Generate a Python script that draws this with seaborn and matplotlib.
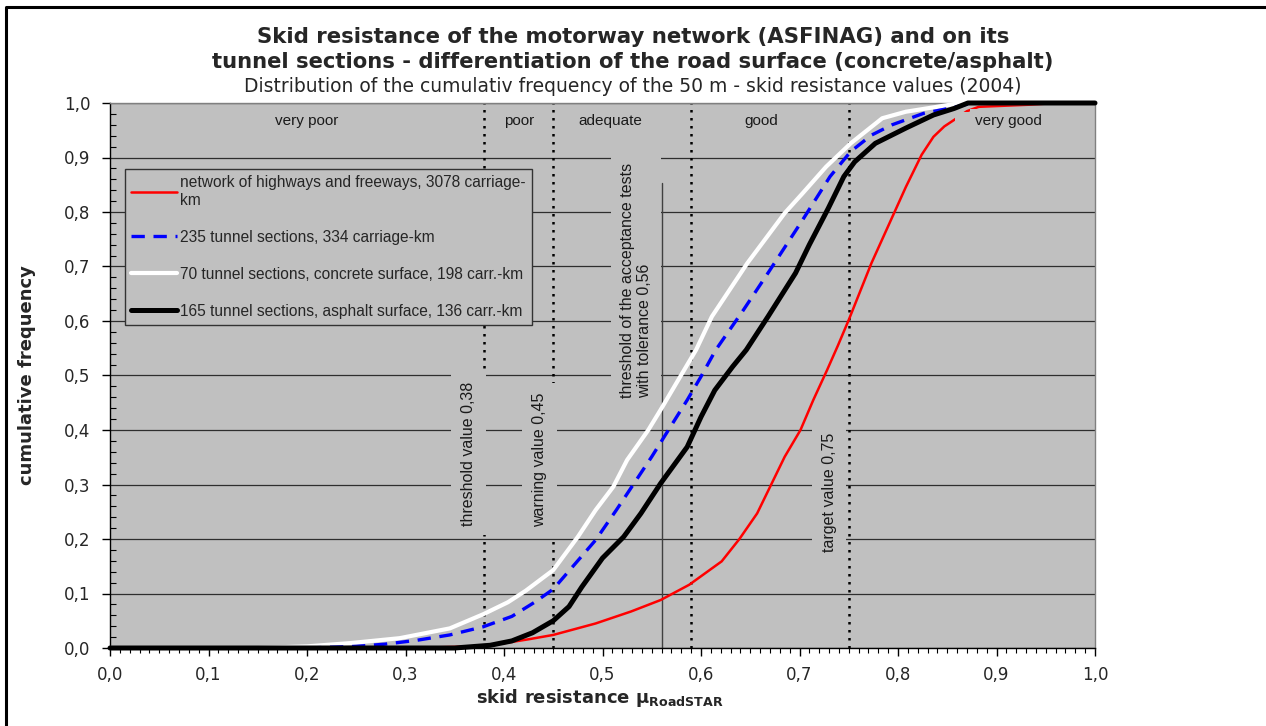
import matplotlib
matplotlib.use("Agg")
import matplotlib.pyplot as plt
import matplotlib.ticker as mticker
from matplotlib.lines import Line2D
from matplotlib.patches import Rectangle
import seaborn as sns

# cumulative frequency of the 50 m skid resistance values
network_x = [0.0, 0.30, 0.35, 0.38, 0.404, 0.425, 0.45, 0.493, 0.529, 0.559, 0.588, 0.621, 0.639,
             0.657, 0.671, 0.685, 0.701, 0.714, 0.728, 0.739, 0.750, 0.773, 0.796, 0.808, 0.824,
             0.836, 0.847, 0.857, 0.870, 0.882, 0.935, 0.96, 1.0]
network_y = [0.0, 0.0, 0.002, 0.004, 0.010, 0.016, 0.024, 0.045, 0.067, 0.088, 0.116, 0.159, 0.200,
             0.247, 0.299, 0.351, 0.400, 0.455, 0.510, 0.555, 0.602, 0.706, 0.798, 0.846, 0.905,
             0.938, 0.957, 0.969, 0.985, 0.993, 0.997, 1.0, 1.0]

tunnel_x = [0.0, 0.20, 0.25, 0.279, 0.311, 0.345, 0.379, 0.408, 0.432, 0.45, 0.461, 0.493, 0.514,
            0.532, 0.550, 0.568, 0.586, 0.600, 0.615, 0.643, 0.668, 0.703, 0.731, 0.752, 0.773,
            0.794, 0.826, 0.857, 0.875, 1.0]
tunnel_y = [0.0, 0.0, 0.003, 0.007, 0.014, 0.024, 0.039, 0.058, 0.085, 0.108, 0.131, 0.198, 0.253,
            0.302, 0.351, 0.403, 0.455, 0.498, 0.547, 0.620, 0.688, 0.785, 0.865, 0.911, 0.941,
            0.960, 0.981, 0.992, 1.0, 1.0]

concrete_x = [0.0, 0.15, 0.20, 0.244, 0.294, 0.345, 0.379, 0.404, 0.422, 0.450, 0.475, 0.493, 0.511,
              0.525, 0.5465, 0.559, 0.575, 0.595, 0.611, 0.647, 0.685, 0.703, 0.727, 0.752, 0.784,
              0.808, 0.843, 0.864, 1.0]
concrete_y = [0.0, 0.0, 0.003, 0.009, 0.018, 0.036, 0.062, 0.084, 0.105, 0.143, 0.204, 0.253, 0.296,
              0.345, 0.400, 0.437, 0.486, 0.547, 0.608, 0.706, 0.798, 0.834, 0.883, 0.926, 0.972,
              0.984, 0.994, 1.0, 1.0]

asphalt_x = [0.0, 0.35, 0.386, 0.408, 0.429, 0.450, 0.466, 0.479, 0.500, 0.5215, 0.539, 0.559, 0.586,
             0.600, 0.614, 0.632, 0.646, 0.668, 0.696, 0.710, 0.729, 0.745, 0.756, 0.777, 0.808,
             0.836, 0.857, 0.871, 1.0]
asphalt_y = [0.0, 0.0, 0.005, 0.013, 0.028, 0.050, 0.076, 0.112, 0.165, 0.204, 0.247, 0.302, 0.369,
             0.424, 0.473, 0.516, 0.547, 0.608, 0.688, 0.740, 0.806, 0.865, 0.892, 0.926, 0.954,
             0.978, 0.990, 1.0, 1.0]

series_labels = ["network of highways and freeways, 3078 carriage-\nkm",
                 "235 tunnel sections, 334 carriage-km",
                 "70 tunnel sections, concrete surface, 198 carr.-km",
                 "165 tunnel sections, asphalt surface, 136 carr.-km"]

categories = ["very poor", "poor", "adequate", "good", "very good"]
boundaries = [0.38, 0.45, 0.59, 0.75]
acceptance = 0.56
threshold_labels = ["threshold value 0,38", "warning value 0,45",
                    "threshold of the acceptance tests\nwith tolerance 0,56", "target value 0,75"]

W, H = 1266, 726
BG = "#C0C0C0"
WIDE = ['DejaVu Sans']  # the sheet's autoscaled texts are stretched wide

sns.set_theme(style="white")
plt.rcParams['font.family'] = ['Liberation Sans', 'DejaVu Sans']
plt.rcParams['mathtext.fontset'] = 'custom'
plt.rcParams['mathtext.rm'] = 'DejaVu Sans'
plt.rcParams['mathtext.bf'] = 'DejaVu Sans:bold'

fig = plt.figure(figsize=(W / 100, H / 100), dpi=100)
fig.patch.set_facecolor("white")
ax = fig.add_axes([110 / W, 1 - 648 / H, 985 / W, 545 / H])
ax.set_facecolor(BG)

# curves
sns.lineplot(x=network_x, y=network_y, ax=ax, color="#FF0000", lw=1.8, sort=False,
             estimator=None, label=series_labels[0], zorder=3, clip_on=False)
sns.lineplot(x=concrete_x, y=concrete_y, ax=ax, color="white", lw=3.0, sort=False,
             estimator=None, label=series_labels[2], zorder=4, clip_on=False)
sns.lineplot(x=tunnel_x, y=tunnel_y, ax=ax, color="#0000FF", lw=2.4, sort=False,
             estimator=None, label=series_labels[1], zorder=5, clip_on=False,
             linestyle=(0, (4, 2.6)))
sns.lineplot(x=asphalt_x, y=asphalt_y, ax=ax, color="black", lw=3.6, sort=False,
             estimator=None, label=series_labels[3], zorder=6, clip_on=False)

# class boundaries
for b in boundaries:
    ax.axvline(b, color="black", lw=1.8, linestyle=(0, (1, 2.2)), zorder=1)
ax.plot([acceptance, acceptance], [0, 0.853], color="#404040", lw=1.0, zorder=2.2)

# category names along the top
cat_x = [0.20, 0.415, 0.508, 0.661, 0.912]
for name, cx in zip(categories, cat_x):
    ax.text(cx, 0.967, name, ha="center", va="center", fontsize=11, color="#1a1a1a",
            bbox=dict(boxstyle="square,pad=0.3", fc=BG, ec="none"), zorder=3.6)
# the "very good" text box of the sheet is wide and hides the red curve
ax.add_patch(Rectangle((0.858, 0.915), 0.10, 0.069, fc=BG, ec="none", zorder=3.5))

# rotated threshold annotations
rot_pos = [(0.364, 0.357), (0.436, 0.345), (0.534, 0.675), (0.730, 0.286)]
for txt, (tx, ty) in zip(threshold_labels, rot_pos):
    ax.text(tx, ty, txt, rotation=90, ha="center", va="center", fontsize=11.5,
            multialignment="left", color="#1a1a1a", linespacing=1.1,
            bbox=dict(boxstyle="square,pad=0.6", fc=BG, ec="none"), zorder=2)

ax.set_xlim(0, 1)
ax.set_ylim(0, 1)
ax.set_axisbelow(True)
ax.yaxis.grid(True, color="#2e2e2e", lw=0.9)
ax.xaxis.grid(False)

fmt = mticker.FuncFormatter(lambda v, p: f"{v:.1f}".replace(".", ","))
ax.xaxis.set_major_locator(mticker.MultipleLocator(0.1))
ax.xaxis.set_minor_locator(mticker.MultipleLocator(0.01))
ax.yaxis.set_major_locator(mticker.MultipleLocator(0.1))
ax.yaxis.set_minor_locator(mticker.MultipleLocator(0.02))
ax.xaxis.set_major_formatter(fmt)
ax.yaxis.set_major_formatter(fmt)
ax.tick_params(axis="x", which="major", direction="out", length=6, width=1, color="black",
               labelsize=12, pad=7, bottom=True)
ax.tick_params(axis="x", which="minor", direction="out", length=3.5, width=0.8, color="black",
               bottom=True)
ax.tick_params(axis="y", which="major", direction="out", length=6, width=1, color="black",
               labelsize=12, pad=8, left=True)
ax.tick_params(axis="y", which="minor", direction="in", length=4, width=0.8, color="black",
               left=True)
for lab in ax.get_xticklabels() + ax.get_yticklabels():
    lab.set_family(WIDE)

for side in ["left", "bottom"]:
    ax.spines[side].set_color("black")
    ax.spines[side].set_linewidth(1.0)
for side in ["top", "right"]:
    ax.spines[side].set_color("#808080")
    ax.spines[side].set_linewidth(1.0)

ax.set_xlabel(r"skid resistance μ$_{\mathbf{RoadSTAR}}$", fontsize=13, fontweight="bold",
              family=WIDE)
ax.xaxis.set_label_coords(0.497, -0.072)
ax.set_ylabel("cumulative frequency", fontsize=13, fontweight="bold", family=WIDE)
ax.yaxis.set_label_coords(-0.084, 0.5)
ax.yaxis.label.set_va("center")

# legend in the original order
handles, labels = ax.get_legend_handles_labels()
order = [labels.index(l) for l in series_labels]
leg = ax.legend([handles[i] for i in order], [labels[i] for i in order],
                loc="upper left", bbox_to_anchor=(0.0152, 0.879), borderaxespad=0,
                fontsize=11.2, handlelength=2.95, handletextpad=0.2, labelspacing=1.42,
                borderpad=0.4, fancybox=False, framealpha=1, facecolor=BG,
                edgecolor="#333333")
leg.get_frame().set_linewidth(1.0)
leg.set_zorder(10)

# titles
fig.text(0.5, 1 - 37 / H, "Skid resistance of the motorway network (ASFINAG) and on its",
         ha="center", va="center", fontsize=15.3, fontweight="bold", family=WIDE)
fig.text(0.5, 1 - 62 / H, "tunnel sections - differentiation of the road surface (concrete/asphalt)",
         ha="center", va="center", fontsize=15.2, fontweight="bold", family=WIDE)
fig.text(0.5, 1 - 87 / H,
         "Distribution of the cumulativ frequency of the 50 m - skid resistance values (2004)",
         ha="center", va="center", fontsize=13.5, family=WIDE)

# outer frame of the original sheet
fig.add_artist(Line2D([6 / W, 6 / W, 1], [0, 1 - 7 / H, 1 - 7 / H], transform=fig.transFigure,
                      color="black", lw=2.2))

fig.savefig("out.png", dpi=100, facecolor="white")
